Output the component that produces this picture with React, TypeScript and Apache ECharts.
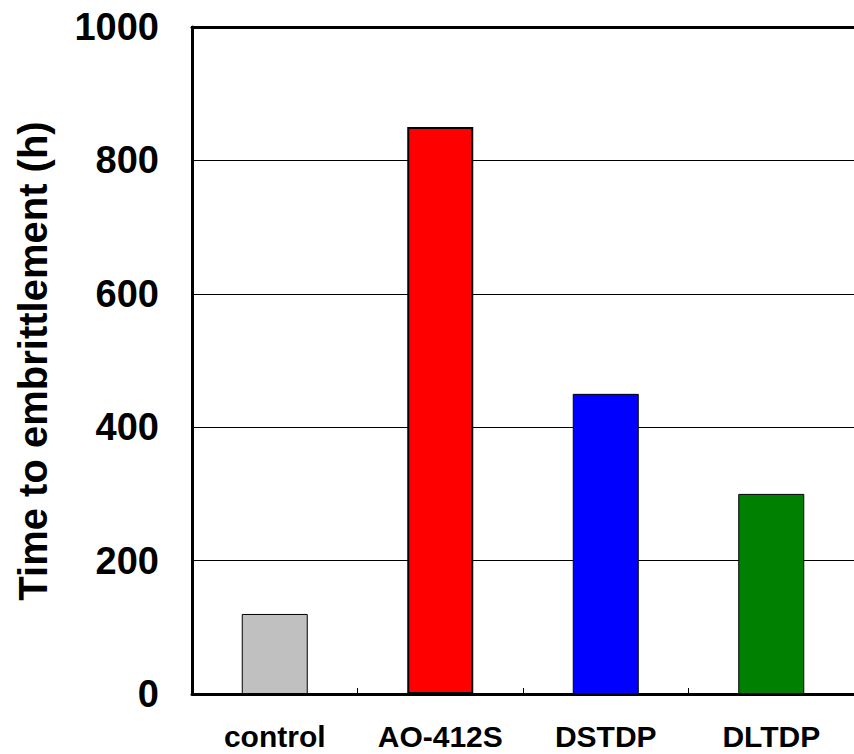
import React, { useEffect, useRef } from "react";
import * as echarts from "echarts";

const categories = ["control", "AO-412S", "DSTDP", "DLTDP"];
const values = [120, 850, 450, 300];
const barColors = ["#c0c0c0", "#ff0000", "#0000ff", "#008000"];
const yTicks = [0, 200, 400, 600, 800, 1000];
const yTitle = "Time to embrittlement (h)";

export default function App() {
  const ref = useRef<HTMLDivElement>(null);
  useEffect(() => {
    document.body.style.margin = "0";
    const chart = echarts.init(ref.current!, undefined, { renderer: "svg", width: 854, height: 754 });
    const font = "'Liberation Sans', Arial, sans-serif";
    chart.setOption({
      animation: false,
      backgroundColor: "#ffffff",
      grid: { left: 192, top: 27, width: 668, height: 667 },
      xAxis: [
        {
          type: "category",
          data: categories,
          position: "bottom",
          axisLine: { lineStyle: { color: "#000", width: 3 } },
          axisTick: { show: true, inside: true, length: 6, interval: 0, lineStyle: { color: "#000", width: 1 } },
          axisLabel: {
            color: "#000",
            fontSize: 30,
            lineHeight: 22,
            fontWeight: "bold",
            fontFamily: font,
            margin: 31,
            interval: 0,
          },
        },
        {
          type: "category",
          data: categories,
          position: "top",
          axisLine: { lineStyle: { color: "#000", width: 3 } },
          axisTick: { show: false },
          axisLabel: { show: false },
        },
      ],
      yAxis: {
        type: "value",
        min: yTicks[0],
        max: yTicks[yTicks.length - 1],
        interval: 200,
        axisLine: { show: true, lineStyle: { color: "#000", width: 3 } },
        axisTick: { show: false },
        splitLine: { show: true, lineStyle: { color: "#000", width: 1 } },
        axisLabel: {
          color: "#000",
          fontSize: 38,
          fontWeight: "bold",
          fontFamily: font,
          margin: 33,
          formatter: (v: number) => String(v),
        },
      },
      graphic: [
        {
          type: "text",
          x: 33,
          y: 361,
          rotation: Math.PI / 2,
          style: {
            text: yTitle,
            fill: "#000",
            font: `bold 40px ${font}`,
            textAlign: "center",
            textVerticalAlign: "middle",
          },
        },
      ],
      series: [
        {
          type: "bar",
          barWidth: 66,
          data: values.map((v, i) => ({
            value: v,
            itemStyle: { color: barColors[i], borderColor: "#000", borderWidth: i === 1 ? 2 : 1 },
          })),
        },
      ],
    });
    return () => chart.dispose();
  }, []);
  return <div ref={ref} style={{ width: 854, height: 754, overflow: "hidden" }} />;
}
